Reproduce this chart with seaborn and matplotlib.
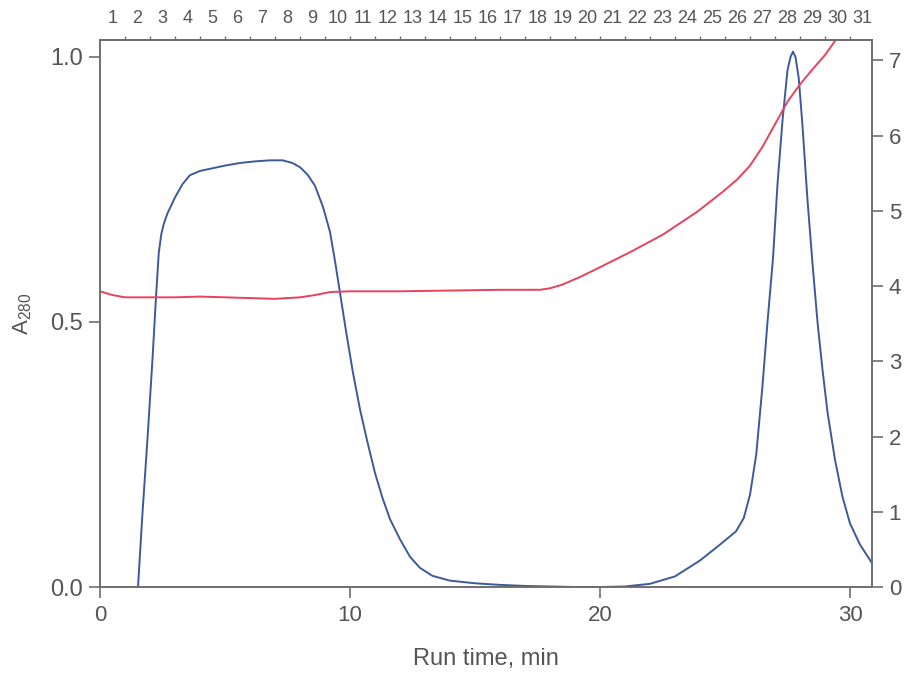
import numpy as np
import pandas as pd
import matplotlib
matplotlib.use("Agg")
import matplotlib.pyplot as plt
import seaborn as sns
from matplotlib import font_manager

# ---------------- data ----------------
time_a280 = [1.52, 1.7, 1.9, 2.1, 2.24, 2.35, 2.45, 2.55, 2.7, 2.85, 3.0, 3.3,
             3.6, 4.0, 4.5, 5.0, 5.6, 6.2, 6.8, 7.3, 7.7, 8.0, 8.3, 8.6, 8.92,
             9.2, 9.4, 9.6, 9.85, 10.12, 10.4, 10.68, 11.0, 11.3, 11.6, 12.0,
             12.4, 12.8, 13.3, 14.0, 15.0, 16.0, 17.0, 18.0, 19.0, 20.0, 21.0,
             22.0, 23.0, 24.0, 24.8, 25.44, 25.75, 26.0, 26.25, 26.5, 26.7,
             26.92, 27.1, 27.3, 27.5, 27.62, 27.72, 27.82, 27.95, 28.1, 28.3,
             28.5, 28.7, 28.9, 29.1, 29.4, 29.7, 30.0, 30.4, 30.88]
a280 = [0.0, 0.14, 0.28, 0.43, 0.547, 0.63, 0.665, 0.685, 0.705, 0.72, 0.735,
        0.76, 0.777, 0.785, 0.79, 0.795, 0.80, 0.803, 0.805, 0.805, 0.8,
        0.792, 0.778, 0.757, 0.717, 0.67, 0.615, 0.555, 0.48, 0.404, 0.335,
        0.277, 0.215, 0.168, 0.128, 0.09, 0.057, 0.036, 0.021, 0.012, 0.007,
        0.004, 0.002, 0.001, 0.0, 0.0, 0.001, 0.006, 0.02, 0.05, 0.08, 0.105,
        0.13, 0.174, 0.25, 0.38, 0.5, 0.62, 0.76, 0.88, 0.975, 1.0, 1.01,
        1.0, 0.96, 0.87, 0.73, 0.61, 0.5, 0.41, 0.33, 0.24, 0.17, 0.12,
        0.08, 0.045]

time_cond = [0.0, 0.5, 1.0, 2.0, 3.0, 4.0, 5.0, 6.0, 7.0, 8.0, 8.6, 9.2, 10.0,
             12.0, 14.0, 16.0, 17.6, 18.0, 18.5, 19.2, 20.0, 21.2, 22.5, 23.9,
             24.9, 25.5, 26.0, 26.5, 27.0, 27.5, 28.0, 28.5, 29.0, 29.6]
cond = [3.93, 3.88, 3.85, 3.85, 3.85, 3.86, 3.85, 3.84, 3.83, 3.85, 3.88,
        3.92, 3.93, 3.93, 3.94, 3.95, 3.95, 3.97, 4.02, 4.12, 4.25, 4.45,
        4.68, 4.99, 5.25, 5.42, 5.6, 5.85, 6.15, 6.45, 6.68, 6.88, 7.07, 7.35]

fraction_labels = [str(n) for n in range(1, 32)]
fraction_edges = list(range(1, 31))
fraction_centers = [n - 0.5 for n in range(1, 32)]

left_ticks = [0.0, 0.5, 1.0]
right_ticks = [0, 1, 2, 3, 4, 5, 6, 7]
bottom_ticks = [0, 10, 20, 30]

# ---------------- style ----------------
sns.set_style("ticks")
names = {f.name for f in font_manager.fontManager.ttflist}
base_font = "Liberation Sans" if "Liberation Sans" in names else "DejaVu Sans"
narrow_font = "Liberation Sans Narrow" if "Liberation Sans Narrow" in names else base_font
plt.rcParams["font.family"] = [base_font, "DejaVu Sans"]
plt.rcParams["mathtext.default"] = "regular"

txt = "#555555"
spine_c = "#6e6e6e"
blue = "#3d5a98"
red = "#e8425c"

fig = plt.figure(figsize=(9.12, 6.74), dpi=100)
ax = fig.add_axes([100 / 912, 1 - 587 / 674, 772 / 912, 547 / 674])

df_a = pd.DataFrame({"t": time_a280, "a": a280})
df_c = pd.DataFrame({"t": time_cond, "c": cond})

sns.lineplot(data=df_a, x="t", y="a", ax=ax, color=blue, linewidth=1.4,
             estimator=None, sort=False)
ax.set_xlim(0, 30.88)
ax.set_ylim(0, 1.032)

ax2 = ax.twinx()
sns.lineplot(data=df_c, x="t", y="c", ax=ax2, color=red, linewidth=1.4,
             estimator=None, sort=False)
ax2.set_ylim(0, 7.27)
ax2.set_xlim(0, 30.88)

for a in (ax, ax2):
    for s in a.spines.values():
        s.set_color(spine_c)
        s.set_linewidth(1.2)
        s.set_visible(True)

ax.set_xticks(bottom_ticks)
ax.set_xticklabels([str(v) for v in bottom_ticks], fontsize=16,
                   family=[narrow_font, "DejaVu Sans"], color=txt)
ax.set_yticks(left_ticks)
ax.set_yticklabels([f"{v:.1f}" for v in left_ticks], fontsize=17, color=txt)
ax.tick_params(axis="both", direction="out", length=8, width=1.2,
               color=spine_c, pad=4)
ax.tick_params(axis="x", pad=5)

ax2.set_yticks(right_ticks)
ax2.set_yticklabels([str(v) for v in right_ticks], fontsize=16, color=txt)
ax2.tick_params(axis="y", direction="out", length=8, width=1.2,
                color=spine_c, pad=4)
ax2.set_ylabel("")

ax.set_xlabel("Run time, min", fontsize=17, color=txt,
              family=[narrow_font, "DejaVu Sans"], labelpad=16)
ax.set_ylabel("A$_{280}$", fontsize=16, color=txt, labelpad=12)

# top fraction axis
top = ax.secondary_xaxis("top")
top.set_xticks(fraction_edges)
top.set_xticklabels([""] * len(fraction_edges))
top.set_xticks(fraction_centers, minor=True)
top.set_xticklabels(fraction_labels, minor=True, fontsize=13, color=txt,
                    family=[narrow_font, "DejaVu Sans"])
top.tick_params(which="major", direction="out", length=3, width=1.0,
                color=spine_c)
top.tick_params(which="minor", length=0, pad=9)
top.spines["top"].set_color(spine_c)
top.spines["top"].set_linewidth(1.2)

fig.savefig("out.png", dpi=100)
